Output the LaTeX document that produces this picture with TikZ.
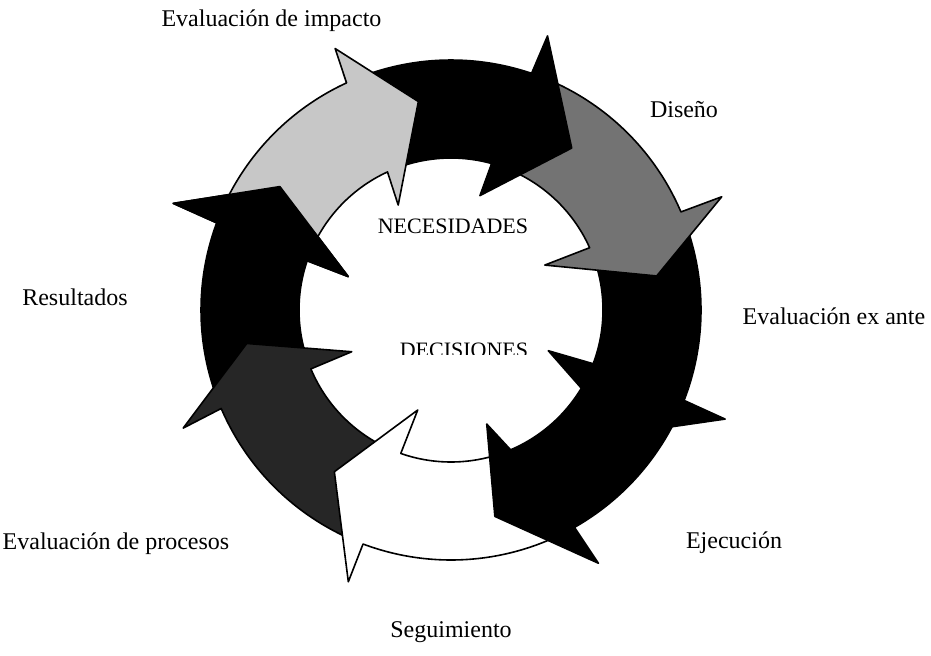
\documentclass[tikz,border=0pt]{standalone}
\usepackage{fontspec}
\setmainfont{Liberation Serif}

\begin{document}
\begin{tikzpicture}[x=0.5pt,y=0.5pt,
        arrowpiece/.style={draw=black,line width=0.8pt,line join=round},
        stagetext/.style={anchor=base,inner sep=0pt,font=\fontsize{12}{14}\selectfont},
        hubtext/.style={anchor=base,inner sep=0pt,font=\fontsize{11}{13}\selectfont}]
        \useasboundingbox (-451,-345) rectangle (480,310);
        % ring of arrows, drawn backwards so that each head lies on the next tail
        % left arrow (black)
        \filldraw[arrowpiece,fill=black] (-156.8:250) arc[start angle=-156.8,end angle=-200.4,radius=250]
            -- (-201:297.5) -- (-215.8:211) -- (-198:108) -- (-198.9:152) arc[start angle=-198.9,end angle=-157.2,radius=152] -- cycle;
        % lower left arrow (very dark)
        \filldraw[arrowpiece,fill=black!85] (-110.6:250) arc[start angle=-110.6,end angle=-156.8,radius=250]
            -- (-156.2:292.7) -- (-170.7:207) -- (-157.2:107.7) -- (-157.2:152) arc[start angle=-157.2,end angle=-109.3,radius=152] -- cycle;
        % bottom arrow (white)
        \filldraw[arrowpiece,fill=white] (-60.4:250) arc[start angle=-60.4,end angle=-110.6,radius=250]
            -- (-110.7:290.5) -- (-125.8:199.4) -- (-108.4:105.4) -- (-109.3:152) arc[start angle=-109.3,end angle=-66.9,radius=152] -- cycle;
        % lower right arrow (black)
        \filldraw[arrowpiece,fill=black] (-21.2:250) arc[start angle=-21.2,end angle=-60.4,radius=250]
            -- (-59.8:293) -- (-78:211) -- (-72.6:119.5) -- (-66.9:152) arc[start angle=-66.9,end angle=-20.7,radius=152] -- cycle;
        % right arrow (black)
        \filldraw[arrowpiece,fill=black] (23.1:250) arc[start angle=23.1,end angle=-21.2,radius=250]
            -- (-21.7:295) -- (-36:211) -- (-22.7:105.5) -- (-20.7:152) arc[start angle=-20.7,end angle=24.2,radius=152] -- cycle;
        % upper right arrow (dark gray)
        \filldraw[arrowpiece,fill=black!55] (71.2:250) arc[start angle=71.2,end angle=23.1,radius=250]
            -- (22.7:293.5) -- (9.4:208.5) -- (25.6:104) -- (24.2:152) arc[start angle=24.2,end angle=74.5,radius=152] -- cycle;
        % top arrow (black)
        \filldraw[arrowpiece,fill=black] (114.7:250) arc[start angle=114.7,end angle=71.2,radius=250]
            -- (70.6:290.6) -- (53.3:202) -- (75.8:118) -- (74.5:152) arc[start angle=74.5,end angle=114.7,radius=152] -- cycle;
        % upper left arrow (light gray)
        \filldraw[arrowpiece,fill=black!22] (159.6:250) arc[start angle=159.6,end angle=114.7,radius=250]
            -- (113.9:286) -- (98.9:211) -- (116.7:117.5) -- (114.7:152) arc[start angle=114.7,end angle=161.1,radius=152] -- cycle;
        % head of the left arrow again, on top of the light gray tail
        \filldraw[arrowpiece,fill=black] (159.6:250) -- (159:297.5) -- (144.2:211) -- (162:108) -- (161.1:152) -- cycle;
        % stage labels
        \foreach \x/\y/\name/\txt in {-179.5/284/impacto/Evaluación de impacto,
                233/193/diseno/Diseño,
                383/-14/exante/Evaluación ex ante,
                283/-238/ejecucion/Ejecución,
                0/-327/seguimiento/Seguimiento,
                -335/-239/procesos/Evaluación de procesos,
                -376/5/resultados/Resultados}
            \node[stagetext] (\name) at (\x,\y) {\txt};
        % texts in the middle
        \node[hubtext] (necesidades) at (2,77) {NECESIDADES};
        \begin{scope}
            \clip (-70,-44.5) rectangle (100,-10);
            \node[hubtext] (decisiones) at (13,-47) {DECISIONES};
        \end{scope}
\end{tikzpicture}
\end{document}
